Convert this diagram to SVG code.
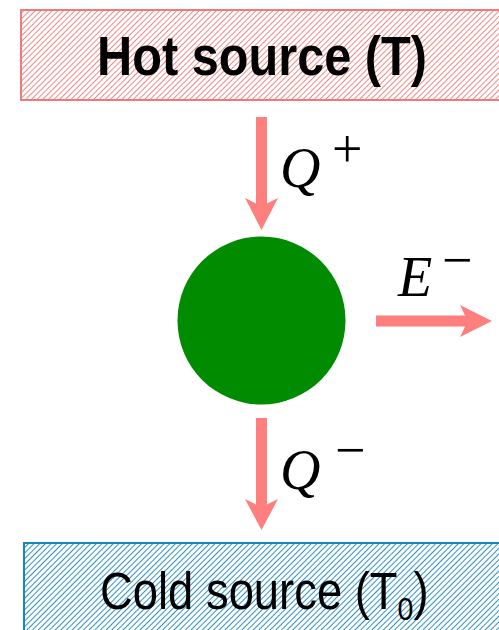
<svg xmlns="http://www.w3.org/2000/svg" width="499" height="630" viewBox="0 0 499 630">
<defs>
<pattern id="hatchRed" patternUnits="userSpaceOnUse" width="4" height="4" patternTransform="rotate(45)">
<rect width="4" height="4" fill="#fff"/>
<line x1="0" y1="0" x2="0" y2="4" stroke="#f07a7a" stroke-width="1.8"/>
</pattern>
<pattern id="hatchBlue" patternUnits="userSpaceOnUse" width="4" height="4" patternTransform="rotate(45)">
<rect width="4" height="4" fill="#fff"/>
<line x1="0" y1="0" x2="0" y2="4" stroke="#1587bd" stroke-width="1.8"/>
</pattern>
<style>
.lbl{font-family:"Liberation Sans","DejaVu Sans",sans-serif;fill:#000}
.math{font-family:"Liberation Serif","DejaVu Serif",serif;font-style:italic;font-size:56px;fill:#000}
.sup{font-family:"Liberation Serif","DejaVu Serif",serif;font-size:54px;fill:#000}
.shaft{stroke:#ff7f7f;stroke-width:11;fill:none}
.head{fill:#ff7f7f}
</style>
</defs>
<g id="hot">
<rect x="21" y="10" width="490" height="90" fill="url(#hatchRed)" stroke="#f07a7a" stroke-width="2"/>
<text class="lbl" x="97" y="75" font-size="56" font-weight="bold" textLength="330" lengthAdjust="spacingAndGlyphs">Hot source (T)</text>
</g>
<g id="cold">
<rect x="24" y="543" width="490" height="100" fill="url(#hatchBlue)" stroke="#1587bd" stroke-width="2"/>
<text class="lbl" transform="translate(100,609) scale(0.89,1)" x="0" y="0" font-size="51">Cold source (T<tspan font-size="32" dy="11">0</tspan><tspan dy="-11">)</tspan></text>
</g>
<g id="engine">
<ellipse cx="261.5" cy="320.5" rx="84" ry="84" fill="#008b00"/>
</g>
<g id="connectors">
<line class="shaft" x1="261.5" y1="117" x2="261.5" y2="206"/>
<path class="head" d="M261.5,230 L278,198 Q268,203 261.5,206 Q255,203 245,198 Z"/>
<line class="shaft" x1="261.5" y1="418" x2="261.5" y2="508"/>
<path class="head" d="M261.5,530 L278,499 Q268,504 261.5,507 Q255,504 245,499 Z"/>
<line class="shaft" x1="376" y1="321" x2="468" y2="321"/>
<path class="head" d="M492,321 L460,305 Q465,315 467,321 Q465,327 460,337 Z"/>
</g>
<g id="labels">
<text class="math" x="280" y="187">Q</text><text class="sup" x="332" y="167">+</text>
<text class="math" x="280" y="489">Q</text><text class="sup" x="335" y="468">−</text>
<text class="math" x="398" y="296">E</text><text class="sup" x="442" y="278">−</text>
</g>
</svg>
